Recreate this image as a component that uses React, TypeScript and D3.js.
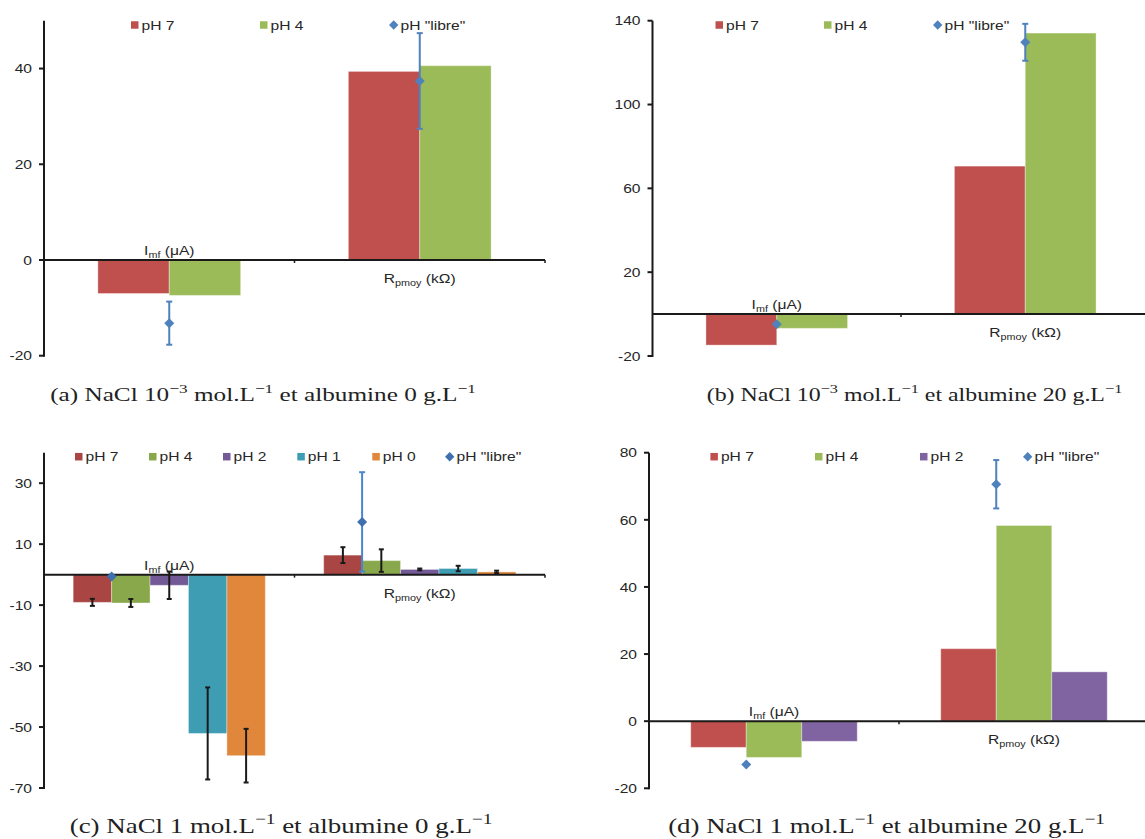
import React, { useLayoutEffect, useRef, useState } from "react";
import * as d3 from "d3";

const categories = ["Imf", "Rpmoy"];

// Panel (a): NaCl 1e-3, albumine 0
const aSeries = ["pH 7", "pH 4"];
const aValues = [[-7.0, 39.4], [-7.4, 40.6]];
const aLibre = [-13.2, 37.4];
const aLibreErr = [4.5, 10.0];
const aTicks = [-20, 0, 20, 40];

// Panel (b): NaCl 1e-3, albumine 20
const bSeries = ["pH 7", "pH 4"];
const bValues = [[-14.8, 70.6], [-6.8, 134.1]];
const bLibre = [-4.8, 129.7];
const bLibreErr = [0, 8.8];
const bTicks = [-20, 20, 60, 100, 140];

// Panel (c): NaCl 1, albumine 0
const cSeries = ["pH 7", "pH 4", "pH 2", "pH 1", "pH 0"];
const cValues = [[-9.1, 6.4], [-9.3, 4.6], [-3.5, 1.7], [-52.1, 2.0], [-59.4, 0.9]];
const cErrors = [[1.15, 2.6], [1.3, 3.7], [4.5, 0.3], [15.1, 0.9], [8.8, 0.4]];
const cLibre = [-0.6, 17.3];
const cLibreErr = [0, 16.3];
const cTicks = [-70, -50, -30, -10, 10, 30];

// Panel (d): NaCl 1, albumine 20
const dSeries = ["pH 7", "pH 4", "pH 2"];
const dValues = [[-7.8, 21.6], [-10.8, 58.3], [-6.0, 14.7]];
const dLibre = [-12.9, 70.6];
const dLibreErr = [0, 7.2];
const dTicks = [-20, 0, 20, 40, 60, 80];

const libreLabel = 'pH "libre"';

type Caption = { parts: [string, boolean][]; cx: number; y: number; w: number; size: number };
type Cfg = {
  series: string[];
  values: number[][];
  errors: number[][] | null;
  libre: number[];
  libreErr: number[];
  ticks: number[];
  domain: [number, number];
  x0: number;
  step: number;
  yTop: number;
  yBottom: number;
  pad: number;
  colors: string[];
  libreColor: string;
  libreErrColor: string;
  legendX: number[];
  legendY: number;
  caption: Caption;
};

const baseColors = ["#C0504D", "#9BBB59", "#8064A2"];
const cColors = ["#A94543", "#89A84C", "#735996", "#3E9CB3", "#E0873B"];

const cfgs: Cfg[] = [
  {
    series: aSeries, values: aValues, errors: null, libre: aLibre, libreErr: aLibreErr,
    ticks: aTicks, domain: [-20, 50], x0: 44, step: 250.5, yTop: 20.7, yBottom: 355.7, pad: 0.43,
    colors: baseColors, libreColor: "#4F81BD", libreErrColor: "#4F81BD",
    legendX: [131, 260, 389], legendY: 25,
    caption: { parts: [["(a) NaCl 10", false], ["−3", true], [" mol.L", false], ["−1", true], [" et albumine 0 g.L", false], ["−1", true]], cx: 263, y: 401, w: 426, size: 19 },
  },
  {
    series: bSeries, values: bValues, errors: null, libre: bLibre, libreErr: bLibreErr,
    ticks: bTicks, domain: [-20, 140], x0: 652.5, step: 248.5, yTop: 20.7, yBottom: 356, pad: 0.43,
    colors: baseColors, libreColor: "#4F81BD", libreErrColor: "#4F81BD",
    legendX: [715.5, 824, 933], legendY: 25,
    caption: { parts: [["(b) NaCl 10", false], ["−3", true], [" mol.L", false], ["−1", true], [" et albumine 20 g.L", false], ["−1", true]], cx: 914.5, y: 401, w: 416, size: 19 },
  },
  {
    series: cSeries, values: cValues, errors: cErrors, libre: cLibre, libreErr: cLibreErr,
    ticks: cTicks, domain: [-70, 40], x0: 44, step: 250.5, yTop: 452.7, yBottom: 788, pad: 0.233,
    colors: cColors, libreColor: "#3F6FAE", libreErrColor: "#4A86CB",
    legendX: [75, 149, 223, 297.3, 372.3, 445], legendY: 456.7,
    caption: { parts: [["(c) NaCl 1 mol.L", false], ["−1", true], [" et albumine 0 g.L", false], ["−1", true]], cx: 281, y: 833, w: 423, size: 21 },
  },
  {
    series: dSeries, values: dValues, errors: null, libre: dLibre, libreErr: dLibreErr,
    ticks: dTicks, domain: [-20, 80], x0: 649, step: 250, yTop: 452.7, yBottom: 788.3, pad: 0.334,
    colors: baseColors, libreColor: "#4F81BD", libreErrColor: "#4F81BD",
    legendX: [710.4, 815, 920, 1023], legendY: 456.7,
    caption: { parts: [["(d) NaCl 1 mol.L", false], ["−1", true], [" et albumine 20 g.L", false], ["−1", true]], cx: 886.5, y: 833, w: 437, size: 21 },
  },
];

const SANS = "'Liberation Sans', Arial, sans-serif";
const SERIF = "'Liberation Serif', 'Times New Roman', serif";
const TXT = "#262626";
const AX = "#1a1a1a";
const SX = 1.2; // horizontal stretch of the reference's sans text

function SText({ x, y, anchor = "start", size = 13, children }: { x: number; y: number; anchor?: string; size?: number; children: React.ReactNode }) {
  return (
    <text transform={`translate(${x},${y}) scale(${SX},1)`} textAnchor={anchor as any} fontFamily={SANS} fontSize={size} fill={TXT}>
      {children}
    </text>
  );
}

function CaptionText({ c }: { c: Caption }) {
  const ref = useRef<SVGTextElement>(null);
  const [sx, setSx] = useState(1);
  useLayoutEffect(() => {
    if (ref.current) {
      const bw = ref.current.getBBox().width;
      if (bw > 0) setSx(c.w / bw);
    }
  }, [c.w]);
  const sup = Math.round(c.size * 0.7);
  const raise = Math.round(c.size * 0.42);
  return (
    <g transform={`translate(${c.cx},${c.y}) scale(${sx},1)`}>
      <text ref={ref} x={0} y={0} textAnchor="middle" fontFamily={SERIF} fontSize={c.size} fill="#222">
        {c.parts.map(([t, isSup], i) => {
          const prevSup = i > 0 && c.parts[i - 1][1];
          const dy = isSup ? -raise : prevSup ? raise : 0;
          return (
            <tspan key={i} fontSize={isSup ? sup : c.size} dy={dy}>{t}</tspan>
          );
        })}
      </text>
    </g>
  );
}

function ErrBar({ x, y1, y2, color, w = 6 }: { x: number; y1: number; y2: number; color: string; w?: number }) {
  return (
    <g stroke={color} strokeWidth={2}>
      <line x1={x} x2={x} y1={y1} y2={y2} />
      <line x1={x - w / 2} x2={x + w / 2} y1={y1} y2={y1} />
      <line x1={x - w / 2} x2={x + w / 2} y1={y2} y2={y2} />
    </g>
  );
}

function Diamond({ cx, cy, r, fill }: { cx: number; cy: number; r: number; fill: string }) {
  return <path d={`M${cx},${cy - r}L${cx + r},${cy}L${cx},${cy + r}L${cx - r},${cy}Z`} fill={fill} />;
}

function Panel({ cfg }: { cfg: Cfg }) {
  const y = d3.scaleLinear().domain(cfg.domain).range([cfg.yBottom, cfg.yTop]);
  const xEnd = cfg.x0 + cfg.step * categories.length;
  const x = d3.scaleBand().domain(categories).range([cfg.x0, xEnd]).paddingInner(cfg.pad).paddingOuter(cfg.pad / 2);
  const xs = d3.scaleBand().domain(cfg.series).range([0, x.bandwidth()]);
  const y0 = y(0);
  const bw = xs.bandwidth();
  const nS = cfg.series.length;

  return (
    <g>
      {cfg.series.map((s, si) =>
        categories.map((c, ci) => {
          const v = cfg.values[si][ci];
          const bx = (x(c) as number) + (xs(s) as number);
          return (
            <rect key={s + c} x={bx} y={Math.min(y(v), y0)} width={bw} height={Math.abs(y(v) - y0)}
              fill={cfg.colors[si]} stroke="#ffffff" strokeOpacity={0.35} strokeWidth={1} />
          );
        })
      )}
      <line x1={cfg.x0} x2={xEnd} y1={y0} y2={y0} stroke={AX} strokeWidth={2} />
      {[1, 2].map((k) => (
        <line key={k} x1={cfg.x0 + cfg.step * k} x2={cfg.x0 + cfg.step * k} y1={y0} y2={y0 + 3} stroke={AX} strokeWidth={1.5} />
      ))}
      <line x1={cfg.x0} x2={cfg.x0} y1={y(cfg.domain[1])} y2={y(cfg.domain[0]) + 1} stroke={AX} strokeWidth={2} />
      {cfg.ticks.map((t) => (
        <g key={t}>
          <line x1={cfg.x0 - 5} x2={cfg.x0} y1={y(t)} y2={y(t)} stroke={AX} strokeWidth={2} />
          <SText x={cfg.x0 - 12} y={y(t) + 4.7} anchor="end">{t}</SText>
        </g>
      ))}
      {cfg.errors &&
        cfg.series.map((s, si) =>
          categories.map((c, ci) => {
            const v = cfg.values[si][ci];
            const e = cfg.errors![si][ci];
            const cx = (x(c) as number) + (xs(s) as number) + bw / 2;
            return <ErrBar key={"e" + s + c} x={cx} y1={y(v - e)} y2={y(v + e)} color="#1a1a1a" w={5} />;
          })
        )}
      <SText x={(x("Imf") as number) + x.bandwidth() / 2} y={y0 - 5} anchor="middle">
        I<tspan fontSize={9} dy={3}>mf</tspan><tspan dy={-3}> (μA)</tspan>
      </SText>
      <SText x={(x("Rpmoy") as number) + x.bandwidth() / 2} y={y0 + 23} anchor="middle">
        R<tspan fontSize={9} dy={3}>pmoy</tspan><tspan dy={-3}> (kΩ)</tspan>
      </SText>
      {categories.map((c, ci) => {
        const v = cfg.libre[ci];
        const e = cfg.libreErr[ci];
        const cx = (x(c) as number) + bw;
        return (
          <g key={"l" + c}>
            {e > 0 && <ErrBar x={cx} y1={y(v - e)} y2={y(v + e)} color={cfg.libreErrColor} w={6} />}
            <Diamond cx={cx} cy={y(v)} r={5} fill={cfg.libreColor} />
          </g>
        );
      })}
      {cfg.series.map((s, si) => (
        <g key={"lg" + s}>
          <rect x={cfg.legendX[si]} y={cfg.legendY - 3.75} width={7.5} height={7.5} fill={cfg.colors[si]} />
          <SText x={cfg.legendX[si] + 10.5} y={cfg.legendY + 4.6}>{s}</SText>
        </g>
      ))}
      <g>
        <Diamond cx={cfg.legendX[nS] + 4.7} cy={cfg.legendY} r={4.7} fill={cfg.libreColor} />
        <SText x={cfg.legendX[nS] + 11.5} y={cfg.legendY + 4.6}>{libreLabel}</SText>
      </g>
      <CaptionText c={cfg.caption} />
    </g>
  );
}

export default function App() {
  return (
    <svg width={1145} height={839} style={{ position: "absolute", left: 0, top: 0, background: "#fff" }}>
      <rect x={0} y={0} width={1145} height={839} fill="#fff" />
      {cfgs.map((c, i) => (
        <Panel key={i} cfg={c} />
      ))}
    </svg>
  );
}
